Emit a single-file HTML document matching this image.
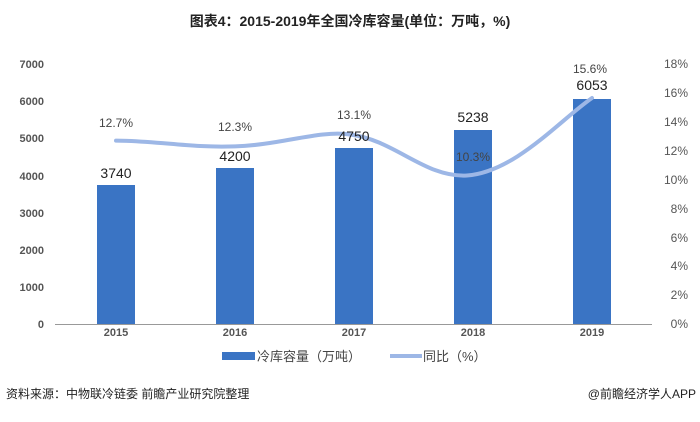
<!DOCTYPE html>
<html><head><meta charset="utf-8"><style>
body{margin:0;background:#fff;width:700px;height:417px;overflow:hidden}
svg text{font-family:"Liberation Sans","Noto Sans CJK SC",sans-serif}
</style></head><body>
<svg width="700" height="417" viewBox="0 0 700 417" xmlns="http://www.w3.org/2000/svg">
<text x="350" y="26" text-anchor="middle" font-size="14" font-weight="bold" fill="#222">图表4：2015-2019年全国冷库容量(单位：万吨，%)</text>
<g font-size="11" fill="#555" text-anchor="end" font-weight="bold">
<text x="44" y="68">7000</text><text x="44" y="105">6000</text><text x="44" y="142">5000</text><text x="44" y="180">4000</text><text x="44" y="217">3000</text><text x="44" y="254">2000</text><text x="44" y="291">1000</text><text x="44" y="328">0</text>
</g>
<g font-size="12" fill="#555" text-anchor="end">
<text x="688" y="68">18%</text><text x="688" y="97">16%</text><text x="688" y="126">14%</text><text x="688" y="155">12%</text><text x="688" y="184">10%</text><text x="688" y="213">8%</text><text x="688" y="242">6%</text><text x="688" y="270">4%</text><text x="688" y="299">2%</text><text x="688" y="328">0%</text>
</g>
<line x1="55" y1="324.5" x2="652" y2="324.5" stroke="#999" stroke-width="1"/>
<g fill="#3a74c4">
<rect x="97" y="185" width="38" height="139"/>
<rect x="216" y="168" width="38" height="156"/>
<rect x="335" y="148" width="38" height="176"/>
<rect x="454" y="130" width="38" height="194"/>
<rect x="573" y="99" width="38" height="225"/>
</g>
<path d="M116,140.6 C160,141 190,148 235,146.4 C280,145 320,130 350,134.5 C395,140 425,178 467,175.5 C515,172 560,120 592,98" fill="none" stroke="#9db7e6" stroke-width="4" stroke-linecap="round"/>
<g font-size="14" fill="#222" text-anchor="middle">
<text x="116" y="178">3740</text><text x="235" y="161">4200</text><text x="354" y="141">4750</text><text x="473" y="122">5238</text><text x="592" y="90">6053</text>
</g>
<g font-size="12" fill="#444" text-anchor="middle">
<text x="116" y="127">12.7%</text><text x="235" y="131">12.3%</text><text x="354" y="119">13.1%</text><text x="473" y="161">10.3%</text><text x="590" y="73">15.6%</text>
</g>
<g font-size="11" fill="#555" text-anchor="middle" font-weight="bold">
<text x="116" y="336">2015</text><text x="235" y="336">2016</text><text x="354" y="336">2017</text><text x="473" y="336">2018</text><text x="592" y="336">2019</text>
</g>
<rect x="222" y="352" width="33" height="8" fill="#3a74c4"/>
<text x="257" y="361" font-size="13" fill="#444">冷库容量（万吨）</text>
<line x1="390" y1="356" x2="422" y2="356" stroke="#9db7e6" stroke-width="4"/>
<text x="423" y="361" font-size="13" fill="#444">同比（%）</text>
<text x="6" y="398" font-size="12" fill="#222">资料来源：中物联冷链委 前瞻产业研究院整理</text>
<text x="696" y="398" font-size="12" fill="#222" text-anchor="end">@前瞻经济学人APP</text>
</svg>
</body></html>
